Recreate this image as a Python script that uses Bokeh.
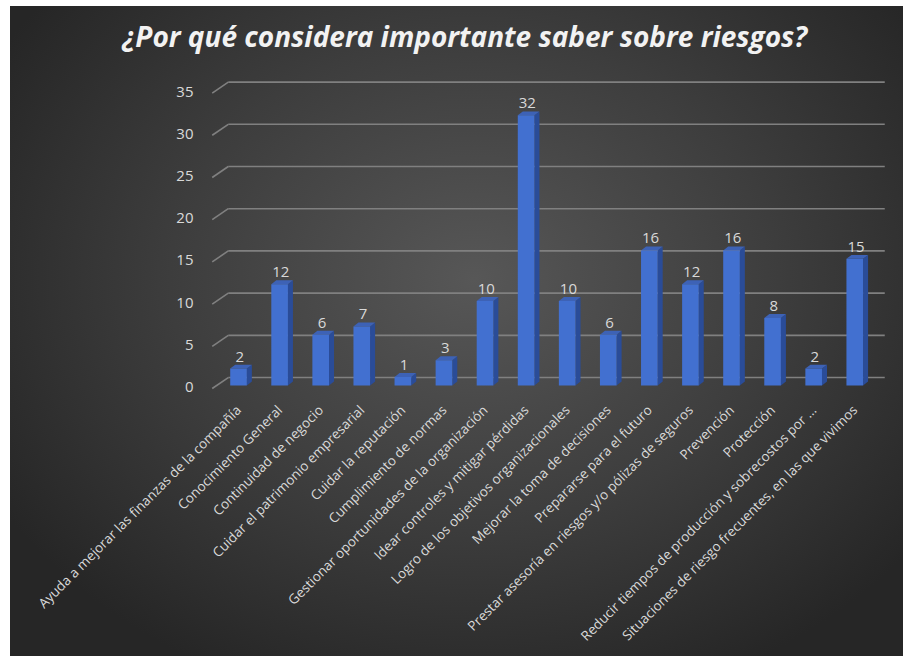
import numpy as np
from bokeh.plotting import figure
from bokeh.models import FixedTicker, Range1d, Title
from bokeh.core.properties import value
from bokeh.embed import file_html
from bokeh.resources import INLINE

title_text = "¿Por qué considera importante saber sobre riesgos?"
categories = [
    "Ayuda a mejorar las finanzas de la compañía",
    "Conocimiento General",
    "Continuidad de negocio",
    "Cuidar el patrimonio empresarial",
    "Cuidar la reputación",
    "Cumplimiento de normas",
    "Gestionar oportunidades de la organización",
    "Idear controles y mitigar pérdidas",
    "Logro de los objetivos organizacionales",
    "Mejorar la toma de decisiones",
    "Prepararse para el futuro",
    "Prestar asesoría en riesgos y/o pólizas de seguros",
    "Prevención",
    "Protección",
    "Reducir tiempos de producción y sobrecostos por ...",
    "Situaciones de riesgo frecuentes, en las que vivimos",
]
values = [2, 12, 6, 7, 1, 3, 10, 32, 10, 6, 16, 12, 16, 8, 2, 15]
y_ticks = [0, 5, 10, 15, 20, 25, 30, 35]

# style constants (3D look)
BAR_W = 0.405
DDX, DDY = 0.122, 0.47      # bar depth offsets (data units)
BAR_LIFT = 0.18
GX0, GX1, GXR = -0.14, 0.25, 16.23
GY_LOW, GY_BACK = -0.18, 1.12

W, H = 893, 650
p = figure(width=W, height=H, output_backend="svg", toolbar_location=None,
           x_range=Range1d(-0.304, 16.37), y_range=Range1d(-1.006, 36.9),
           min_border_left=195, min_border_right=13, min_border_top=69,
           min_border_bottom=261)
p.background_fill_color = None
p.border_fill_color = None
p.outline_line_color = None
p.styles = {"margin-left": "10px", "margin-top": "6px",
            "background": "radial-gradient(ellipse 62% 68% at 52% 42%, #575757 0%, #3d3d3d 55%, #262626 100%)"}
p.grid.visible = False

# spacer between title and plot area
p.add_layout(Title(text=" ", text_font_size="1px", standoff=12), "above")

# title
p.title.text = title_text
p.title.text_font = "Open Sans"
p.title.text_font_style = "bold italic"
p.title.text_font_size = "28px"
p.title.text_color = "#f2f2f2"
p.title.align = "left"
p.title.vertical_align = "middle"
p.title.offset = -83
p.title.standoff = 10

# 3D grid lines from tick values
yt = np.array(y_ticks, dtype=float)
p.segment(x0=[GX0]*len(yt), y0=yt + GY_LOW, x1=[GX1]*len(yt), y1=yt + GY_BACK,
          line_color="#808080", line_width=1.6)
p.segment(x0=[GX1]*len(yt), y0=yt + GY_BACK, x1=[GXR]*len(yt), y1=yt + GY_BACK,
          line_color="#808080", line_width=1.6)

# bars
xc = np.arange(len(values)) + 0.5
v = np.array(values, dtype=float)
bot = np.full_like(v, BAR_LIFT)
top = v + BAR_LIFT
xl = xc - BAR_W / 2
xr = xc + BAR_W / 2

side_xs = [[a, a + DDX, a + DDX, a] for a in xr]
side_ys = [[b, b + DDY, t + DDY, t] for b, t in zip(bot, top)]
p.patches(side_xs, side_ys, fill_color="#2a4c98", line_color=None)
top_xs = [[l, r, r + DDX, l + DDX] for l, r in zip(xl, xr)]
top_ys = [[t, t, t + DDY, t + DDY] for t in top]
p.patches(top_xs, top_ys, fill_color="#3d62b6", line_color=None)
p.quad(left=xl, right=xr, bottom=bot, top=top, fill_color="#4270d0", line_color=None)

# data labels
p.text(x=xc + 0.03, y=top, text=[str(int(a)) for a in values],
       text_align="center", text_baseline="bottom", y_offset=-7,
       text_color="#d9d9d9", text_font=value("Open Sans"), text_font_size="15px")

# axes
p.xaxis.ticker = FixedTicker(ticks=list(xc))
p.xaxis.major_label_overrides = {float(x): c for x, c in zip(xc, categories)}
p.xaxis.major_label_orientation = np.pi / 4
p.yaxis.ticker = FixedTicker(ticks=y_ticks)
for ax in (p.xaxis[0], p.yaxis[0]):
    ax.axis_line_color = None
    ax.major_tick_line_color = None
    ax.minor_tick_line_color = None
    ax.major_label_text_color = "#d9d9d9"
    ax.major_label_text_font = "Open Sans"
p.xaxis.major_label_text_font_size = "13.5px"
p.xaxis.major_label_standoff = 6
p.yaxis.major_label_text_font_size = "15px"
p.yaxis.major_label_standoff = 6

open("out.html", "w").write(file_html(p, INLINE))
